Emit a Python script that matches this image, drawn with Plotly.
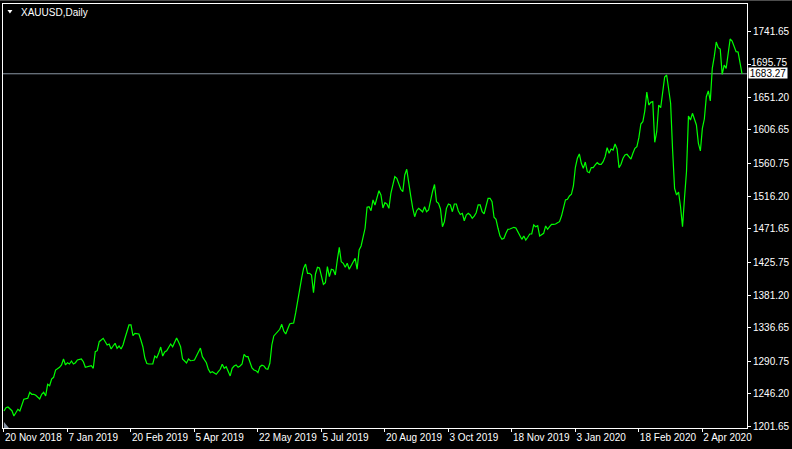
import plotly.graph_objects as go

symbol_label = "XAUUSD,Daily"

bars = [0, 1, 2, 3, 4, 5, 6, 7, 8, 9, 10, 12, 13, 14, 15, 16, 18, 19, 20, 21, 22, 23, 24, 25, 26, 28, 29, 30,
        31, 32, 33, 34, 35, 36, 37, 39, 40, 41, 43, 44, 45, 46, 47, 48, 50, 51, 52, 53, 54, 55, 56, 57, 58, 59,
        60, 61, 62, 63, 64, 65, 66, 67, 68, 69, 70, 71, 72, 73, 74, 75, 76, 77, 78, 79, 80, 81, 82, 83, 84, 85,
        86, 87, 88, 89, 90, 91, 92, 93, 94, 95, 96, 97, 98, 99, 100, 101, 102, 103, 104, 105, 106, 107, 108,
        109, 110, 111, 112, 113, 114, 115, 116, 117, 118, 119, 120, 121, 122, 123, 124, 125, 126, 127, 128,
        129, 130, 131, 132, 133, 134, 135, 136, 137, 139, 140, 141, 142, 143, 144, 145, 146, 147, 148, 149,
        150, 151, 152, 153, 154, 155, 156, 157, 158, 159, 160, 161, 162, 163, 164, 165, 166, 167, 168, 169,
        170, 171, 172, 173, 174, 175, 176, 177, 178, 179, 180, 181, 182, 183, 184, 185, 186, 187, 188, 189,
        190, 191, 192, 193, 194, 195, 196, 197, 198, 199, 200, 201, 202, 203, 204, 205, 206, 207, 208, 209,
        210, 211, 212, 213, 214, 215, 216, 217, 218, 219, 220, 221, 222, 223, 224, 225, 226, 227, 228, 229,
        230, 231, 232, 233, 234, 235, 236, 237, 238, 239, 240, 241, 242, 243, 244, 245, 246, 247, 248, 249,
        250, 251, 252, 253, 254, 255, 256, 257, 258, 259, 260, 261, 262, 263, 264, 265, 266, 267, 268, 269,
        270, 271, 272, 273, 274, 275, 276, 277, 278, 279, 280, 281, 282, 283, 284, 285, 286, 287, 288, 289,
        290, 291, 292, 293, 294, 295, 296, 297, 298, 299, 300, 301, 302, 303, 304, 305, 306, 307, 308, 309,
        310, 311, 312, 313, 314, 315, 316, 317, 318, 319, 320, 321, 322, 323, 324, 325, 326, 327, 328, 329,
        330, 331, 332, 333, 334, 335, 336, 337, 338, 339, 340, 341, 342, 343, 344, 345, 346, 347, 348, 349,
        350, 351, 352, 353, 354, 355, 356, 357, 358, 359, 360, 361, 362, 363, 364, 365, 366, 367, 368, 369,
        370, 371, 372]

closes = [1223.0, 1227.5, 1228.4, 1225.3, 1223.4, 1216.2, 1220.7, 1225.3, 1223.0, 1232.5, 1239.0, 1240.3,
          1248.5, 1245.8, 1245.8, 1244.4, 1239.4, 1245.8, 1248.5, 1243.5, 1259.4, 1257.5, 1266.7, 1269.0,
          1278.9, 1282.6, 1285.8, 1293.9, 1285.8, 1288.9, 1287.1, 1291.2, 1287.1, 1288.9, 1292.6, 1293.9,
          1290.3, 1282.6, 1284.4, 1284.8, 1281.3, 1303.9, 1305.3, 1317.6, 1322.2, 1317.6, 1313.1, 1314.4,
          1307.6, 1311.7, 1315.4, 1308.6, 1311.7, 1307.6, 1313.1, 1322.6, 1333.5, 1340.4, 1340.4, 1325.8,
          1329.0, 1329.0, 1328.1, 1319.9, 1310.7, 1295.3, 1287.8, 1287.1, 1287.1, 1287.1, 1298.0, 1295.7,
          1302.1, 1310.3, 1298.0, 1303.5, 1305.2, 1309.3, 1314.4, 1310.7, 1317.1, 1322.6, 1317.1, 1310.7,
          1293.9, 1291.6, 1288.5, 1293.9, 1291.6, 1291.9, 1292.6, 1298.0, 1303.9, 1308.9, 1297.1, 1292.6,
          1288.9, 1279.9, 1275.3, 1276.6, 1274.4, 1273.1, 1276.6, 1279.9, 1286.7, 1281.3, 1283.5, 1278.0,
          1270.8, 1281.3, 1284.4, 1285.8, 1282.6, 1284.4, 1287.1, 1300.4, 1297.1, 1297.1, 1288.9, 1281.7,
          1278.9, 1278.0, 1275.3, 1283.5, 1285.4, 1284.4, 1280.7, 1279.9, 1288.1, 1313.1, 1325.4, 1329.0,
          1334.5, 1341.3, 1332.2, 1328.1, 1334.5, 1341.7, 1342.7, 1343.1, 1356.8, 1374.5, 1392.6, 1404.1,
          1417.7, 1423.6, 1410.9, 1410.9, 1408.6, 1384.5, 1410.0, 1419.1, 1418.2, 1407.3, 1395.9, 1398.1,
          1420.0, 1406.3, 1416.4, 1415.4, 1408.6, 1429.1, 1446.4, 1426.7, 1424.6, 1419.1, 1424.6, 1416.4,
          1420.9, 1425.4, 1431.4, 1416.4, 1442.7, 1448.2, 1458.7, 1472.4, 1501.0, 1501.8, 1496.4, 1511.0,
          1504.2, 1513.7, 1523.7, 1517.8, 1500.1, 1507.3, 1505.5, 1499.6, 1520.1, 1531.5, 1542.8, 1540.6,
          1531.5, 1525.6, 1522.3, 1545.1, 1552.9, 1531.5, 1516.5, 1500.1, 1488.2, 1496.4, 1499.6, 1497.3,
          1494.6, 1501.8, 1495.0, 1497.3, 1511.0, 1522.6, 1532.1, 1508.7, 1506.5, 1498.7, 1474.5, 1481.4,
          1499.6, 1505.5, 1504.2, 1495.0, 1505.5, 1505.5, 1496.0, 1491.2, 1492.8, 1482.7, 1490.5, 1492.8,
          1490.5, 1486.0, 1489.1, 1493.6, 1504.2, 1504.2, 1495.0, 1491.9, 1502.8, 1513.3, 1513.3, 1508.7,
          1487.4, 1484.6, 1472.4, 1461.8, 1457.3, 1458.7, 1465.5, 1471.0, 1471.4, 1472.4, 1473.7, 1472.8,
          1467.3, 1463.2, 1457.3, 1461.8, 1456.4, 1460.1, 1464.6, 1464.6, 1476.9, 1474.5, 1475.9, 1461.8,
          1463.2, 1465.5, 1475.5, 1471.0, 1474.5, 1477.8, 1477.8, 1478.2, 1480.0, 1481.4, 1489.1, 1501.8,
          1511.0, 1511.9, 1516.5, 1518.8, 1530.1, 1555.6, 1567.9, 1573.8, 1561.1, 1554.2, 1562.8, 1549.6,
          1548.2, 1555.3, 1555.1, 1558.8, 1561.9, 1559.7, 1559.7, 1563.3, 1570.1, 1582.4, 1574.7, 1580.6,
          1579.2, 1587.4, 1580.6, 1555.1, 1559.7, 1567.9, 1572.4, 1573.4, 1570.1, 1566.9, 1574.7, 1581.5,
          1583.7, 1596.0, 1614.7, 1617.8, 1632.5, 1658.4, 1640.6, 1644.3, 1645.2, 1589.7, 1604.2, 1640.6,
          1636.9, 1662.5, 1678.9, 1681.6, 1663.4, 1643.0, 1579.2, 1526.9, 1517.8, 1521.9, 1501.8, 1474.5,
          1513.7, 1549.6, 1625.6, 1620.2, 1629.3, 1622.5, 1613.4, 1588.4, 1577.9, 1608.8, 1621.5, 1652.0,
          1659.8, 1646.1, 1690.7, 1706.6, 1726.6, 1718.9, 1717.1, 1682.5, 1695.2, 1690.7, 1708.9, 1730.7,
          1728.0, 1721.6, 1713.4, 1713.0, 1698.9, 1683.27]

date_tick_bars = [0, 32, 64, 96, 128, 160, 192, 224, 256, 288, 320, 352]
date_tick_labels = ["20 Nov 2018", "7 Jan 2019", "20 Feb 2019", "5 Apr 2019", "22 May 2019", "5 Jul 2019",
                    "20 Aug 2019", "3 Oct 2019", "18 Nov 2019", "3 Jan 2020", "18 Feb 2020", "2 Apr 2020"]

price_ticks = [1201.65, 1246.20, 1290.75, 1336.65, 1381.20, 1425.75, 1471.65, 1516.20, 1560.75,
               1606.65, 1651.20, 1695.75, 1741.65]

last_price = 1683.27

FONT = "Liberation Sans"

# the label next to the price tag is nudged up (as the terminal does) so it does not collide
nudged_tick = 1695.75
axis_ticktext = ["" if v == nudged_tick else f"{v:.2f}" for v in price_ticks]

fig = go.Figure()
fig.add_trace(go.Scatter(x=bars, y=closes, mode="lines",
                         line=dict(color="#00ff00", width=1.2), hoverinfo="skip"))

# bid line
fig.add_shape(type="line", xref="x domain", x0=0, x1=1, yref="y", y0=last_price, y1=last_price,
              line=dict(color="#8a96a4", width=1), layer="below")

# nudged axis label
fig.add_annotation(x=1, xref="paper", xanchor="left", xshift=3, y=nudged_tick, yref="y",
                   yanchor="middle", yshift=2.5, text=f"{nudged_tick:.2f}", showarrow=False,
                   height=10, borderpad=0,
                   font=dict(family=FONT, size=10, color="white"))

# price tag
fig.add_annotation(x=1, xref="paper", xanchor="left", xshift=1, y=last_price, yref="y",
                   yanchor="middle", yshift=1, text=f"{last_price:.2f}", showarrow=False,
                   width=38, height=10, align="center", valign="middle",
                   font=dict(family=FONT, size=10, color="black"), bgcolor="white", borderpad=0)

# title label
fig.add_annotation(x=0.0213, xref="paper", xanchor="left", y=0.981, yref="paper", yanchor="middle",
                   text=symbol_label, showarrow=False, font=dict(family=FONT, size=10, color="white"))
fig.add_shape(type="path", xref="paper", yref="paper",
              path="M 0.006,0.9858 L 0.0127,0.9858 L 0.00935,0.9776 Z",
              fillcolor="white", line=dict(width=0))
# small gray marker bottom-left
fig.add_shape(type="path", xref="paper", yref="paper",
              path="M 0.0013,0.0142 L 0.0013,0 L 0.008,0 Z",
              fillcolor="#8895a5", line=dict(width=0))
# top window border
fig.add_shape(type="line", xref="paper", yref="paper", x0=-0.01, x1=1.06, y0=1.0083, y1=1.0083,
              line=dict(color="#505050", width=1))

fig.update_layout(
    width=792, height=449,
    margin=dict(l=2, r=40, t=4, b=21, pad=0),
    paper_bgcolor="black", plot_bgcolor="black",
    showlegend=False,
    font=dict(family=FONT, size=10, color="white"),
)
fig.update_xaxes(range=[-0.5, 374.5], showgrid=False, zeroline=False,
                 showline=True, mirror=True, linecolor="white", linewidth=1,
                 ticks="outside", ticklen=3, tickcolor="white", tickwidth=1,
                 tickvals=date_tick_bars, ticktext=date_tick_labels,
                 ticklabelposition="outside right",
                 tickfont=dict(family=FONT, size=10, color="white"))
fig.update_yaxes(range=[1199.78, 1778.5], side="right", showgrid=False, zeroline=False,
                 showline=True, mirror=True, linecolor="white", linewidth=1,
                 ticks="outside", ticklen=3, tickcolor="white", tickwidth=1,
                 tickvals=price_ticks, ticktext=axis_ticktext,
                 tickfont=dict(family=FONT, size=10, color="white"))

fig.write_html("out.html", config={"displayModeBar": False},
               post_script="document.body.style.margin='0';document.body.style.background='black';")
